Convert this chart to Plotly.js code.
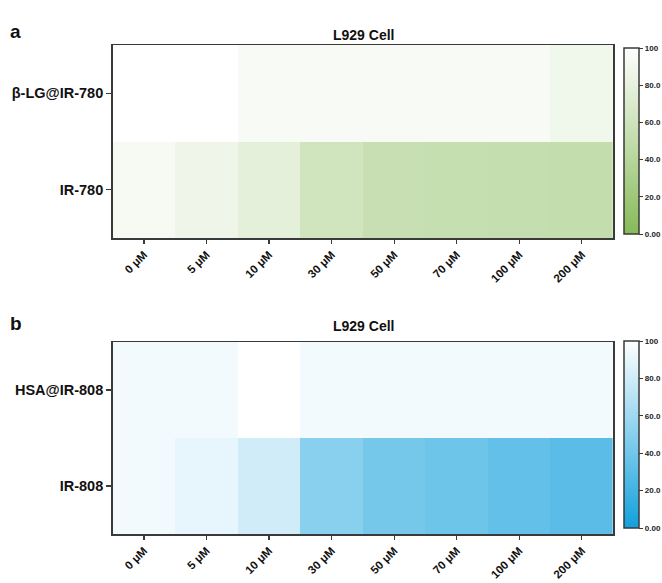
<!DOCTYPE html>
<html>
<head>
<meta charset="utf-8">
<script src="https://cdn.plot.ly/plotly-3.0.1.min.js"></script>
<style>html,body{margin:0;padding:0;background:#fff;}</style>
</head>
<body>
<div id="chart" style="width:662px;height:583px;"></div>
<script>
// Data
const concentrations = ['0 μM','5 μM','10 μM','30 μM','50 μM','70 μM','100 μM','200 μM'];
const rowsA = ['β-LG@IR-780','IR-780'];
const rowsB = ['HSA@IR-808','IR-808'];
const viabilityA_LG = [100, 100, 94, 94, 94, 94, 94, 88];
const viabilityA_IR780 = [93, 87, 78, 61, 54, 53, 52, 51];
const viabilityB_HSA = [95, 95, 100, 95, 95, 95, 95, 95];
const viabilityB_IR808 = [95, 90, 80, 50, 42, 39, 34, 31];
const cbTickVals = [0, 20, 40, 60, 80, 100];
const cbTickText = ['0.00', '20.0', '40.0', '60.0', '80.0', '100'];
const panelTitle = 'L929 Cell';

const W = 662, H = 583;
const px = v => v / W;
const py = v => (H - v) / H;

const fontFam = 'Arial, "Liberation Sans", sans-serif';
const lineCol = '#3a3a3a';

function colorbar(topPx, botPx) {
  return {
    x: px(626), xanchor: 'left', xpad: 0, ypad: 0,
    y: py((topPx + botPx) / 2), yanchor: 'middle',
    len: botPx - topPx, lenmode: 'pixels',
    thickness: 15, thicknessmode: 'pixels',
    outlinewidth: 1.5, outlinecolor: lineCol,
    tickmode: 'array', tickvals: cbTickVals, ticktext: cbTickText,
    ticks: 'outside', ticklen: 4, tickwidth: 1, tickcolor: lineCol,
    tickfont: {family: fontFam, size: 8, color: '#222', weight: 'bold'}
  };
}

const traceA = {
  type: 'heatmap', x: concentrations, y: rowsA,
  z: [viabilityA_LG, viabilityA_IR780],
  zmin: 0, zmax: 100,
  colorscale: [[0, '#86ba58'], [1, '#ffffff']],
  xaxis: 'x', yaxis: 'y',
  colorbar: colorbar(48, 234)
};
const traceB = {
  type: 'heatmap', x: concentrations, y: rowsB,
  z: [viabilityB_HSA, viabilityB_IR808],
  zmin: 0, zmax: 100,
  colorscale: [[0, '#12a0dc'], [1, '#ffffff']],
  xaxis: 'x2', yaxis: 'y2',
  colorbar: colorbar(341, 528)
};

function xax(anchor) {
  return {
    domain: [px(113), px(615)], anchor: anchor,
    showline: true, mirror: true, linecolor: lineCol, linewidth: 1.5,
    ticks: 'outside', ticklen: 4, tickcolor: lineCol, tickwidth: 1.2,
    tickangle: -45, showgrid: false, zeroline: false,
    tickfont: {family: fontFam, size: 11.5, color: '#111', weight: 'bold'}
  };
}
function yax(anchor, top, bot) {
  return {
    domain: [py(bot), py(top)], anchor: anchor, autorange: 'reversed',
    showline: true, mirror: true, linecolor: lineCol, linewidth: 1.5,
    ticks: 'outside', ticklen: 5, tickcolor: lineCol, tickwidth: 1.2,
    showgrid: false, zeroline: false,
    tickfont: {family: fontFam, size: 14.5, color: '#111', weight: 'bold'}
  };
}

function ann(text, x, y, size) {
  return {text: '<b>' + text + '</b>', x: px(x), y: py(y), xref: 'paper', yref: 'paper',
          xanchor: 'center', yanchor: 'middle', showarrow: false,
          font: {family: fontFam, size: size, color: '#111'}};
}

const layout = {
  width: W, height: H,
  margin: {l: 0, r: 0, t: 0, b: 0},
  paper_bgcolor: '#fff', plot_bgcolor: '#fff',
  showlegend: false,
  xaxis: xax('y'), yaxis: yax('x', 45, 238),
  xaxis2: xax('y2'), yaxis2: yax('x2', 342, 534),
  annotations: [
    ann(panelTitle, 365, 35, 14),
    ann(panelTitle, 365, 326, 14),
    ann('a', 16, 32, 19),
    ann('b', 16, 323, 19)
  ]
};

Plotly.newPlot('chart', [traceA, traceB], layout, {displayModeBar: false, staticPlot: true});
</script>
</body>
</html>
